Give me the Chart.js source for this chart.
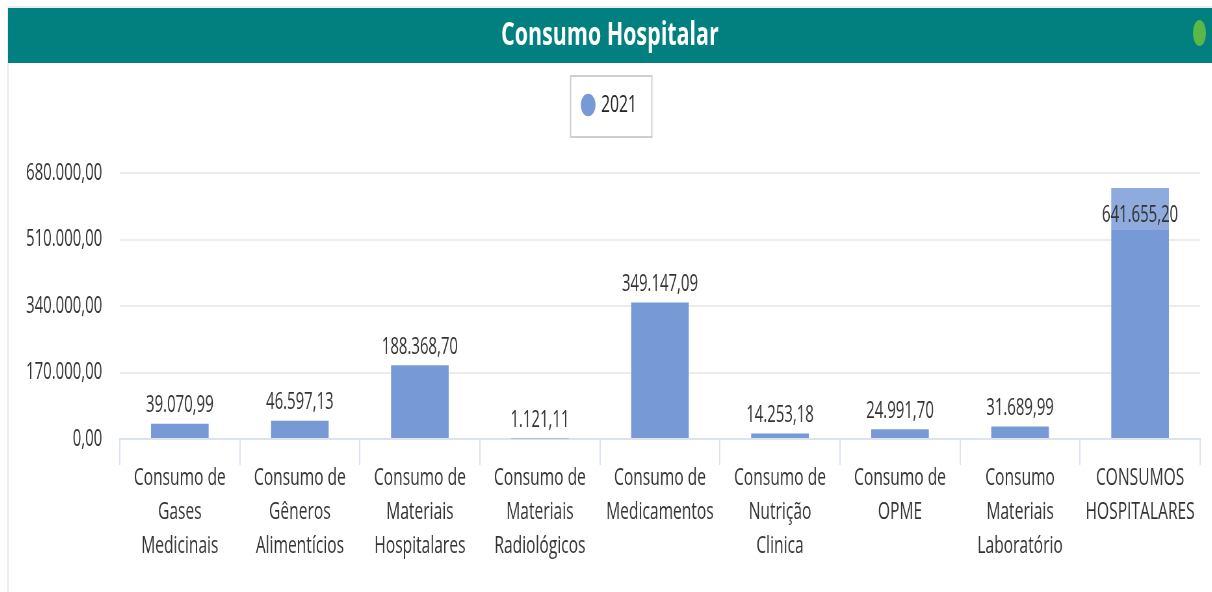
<!DOCTYPE html>
<html>
<head>
<meta charset="utf-8">
<script src="https://cdn.jsdelivr.net/npm/chart.js@4.4.1/dist/chart.umd.min.js"></script>
<style>
  html, body { margin: 0; padding: 0; background: #fff; overflow: hidden; width: 1212px; height: 592px; }
  #frame { position: absolute; left: 7px; top: 6px; width: 1205px; height: 586px; border-left: 2px solid #eeeeee; border-top: 2px solid #ececec; }
  #wrap { position: absolute; left: 8px; top: 8px; width: 1852px; height: 584px; transform: scaleX(0.65); transform-origin: 0 0; }
  canvas { display: block; }
</style>
</head>
<body>
<div id="frame"></div>
<div id="wrap"><canvas id="c" width="1852" height="584"></canvas></div>
<script>
const categories = [
  ['Consumo de', 'Gases', 'Medicinais'],
  ['Consumo de', 'Gêneros', 'Alimentícios'],
  ['Consumo de', 'Materiais', 'Hospitalares'],
  ['Consumo de', 'Materiais', 'Radiológicos'],
  ['Consumo de', 'Medicamentos'],
  ['Consumo de', 'Nutrição', 'Clinica'],
  ['Consumo de', 'OPME'],
  ['Consumo', 'Materiais', 'Laboratório'],
  ['CONSUMOS', 'HOSPITALARES']
];
const values2021 = [39070.99, 46597.13, 188368.70, 1121.11, 349147.09, 14253.18, 24991.70, 31689.99, 641655.20];
const seriesName = '2021';
const chartTitle = 'Consumo Hospitalar';
const yTicks = [0, 170000, 340000, 510000, 680000];

function fmtBR(v) {
  const s = v.toFixed(2);
  const [ip, dp] = s.split('.');
  const grouped = ip.replace(/\B(?=(\d{3})+(?!\d))/g, '.');
  return grouped + ',' + dp;
}

const FONT = '"Open Sans", "Noto Sans", sans-serif';
const BAR = '#7799d6';
const TEXT = '#333333';

const decor = {
  id: 'decor',
  beforeLayout(chart) {
    const lg = chart.legend;
    if (lg && !lg._patched) {
      const orig = lg.fit.bind(lg);
      lg.fit = function () { orig(); this.height = 110; };
      lg._patched = true;
    }
  },
  beforeDraw(chart) {
    const ctx = chart.ctx;
    ctx.save();
    ctx.fillStyle = '#027f7f';
    ctx.fillRect(0, 0, chart.width, 55);
    ctx.fillStyle = '#5bb848';
    ctx.beginPath();
    ctx.ellipse(1833, 25, 10, 13, 0, 0, Math.PI * 2);
    ctx.fill();
    ctx.restore();
  },
  afterDraw(chart) {
    const ctx = chart.ctx;
    const hb = chart.legend && chart.legend.legendHitBoxes && chart.legend.legendHitBoxes[0];
    if (hb) {
      const cx = hb.left + hb.width / 2;
      const cy = hb.top + hb.height / 2;
      const w = 125, h = 61;
      ctx.save();
      ctx.strokeStyle = '#cfcfcf';
      ctx.lineWidth = 2;
      ctx.strokeRect(cx - w / 2 + 2, cy - h / 2 + 1.5, w, h);
      ctx.restore();
    }
  },
  afterDatasetsDraw(chart) {
    const ctx = chart.ctx;
    const meta = chart.getDatasetMeta(0);
    const area = chart.chartArea;
    ctx.save();
    ctx.font = '23px ' + FONT;
    ctx.textAlign = 'center';
    ctx.textBaseline = 'middle';
    meta.data.forEach((bar, i) => {
      const v = chart.data.datasets[0].data[i];
      const txt = fmtBR(v);
      let y = bar.y - 18;
      if (y - 12 < area.top) {
        const props = bar.getProps(['x', 'y', 'width'], true);
        ctx.fillStyle = 'rgba(255,255,255,0.18)';
        ctx.fillRect(props.x - props.width / 2, props.y, props.width, 42);
        y = bar.y + 27;
      }
      ctx.fillStyle = TEXT;
      ctx.fillText(txt, bar.x, y);
    });
    ctx.restore();
  }
};

new Chart(document.getElementById('c'), {
  type: 'bar',
  data: {
    labels: categories,
    datasets: [{
      label: seriesName,
      data: values2021,
      backgroundColor: BAR,
      borderWidth: 0,
      barPercentage: 0.48,
      categoryPercentage: 1.0
    }]
  },
  options: {
    responsive: false,
    animation: false,
    devicePixelRatio: 1,
    layout: { padding: { top: 0, left: 18, right: 18, bottom: 0 } },
    plugins: {
      title: {
        display: true,
        text: chartTitle,
        color: '#ffffff',
        font: { family: FONT, size: 33, weight: 'bold', lineHeight: 1.2 },
        padding: { top: 8, bottom: 7.4 }
      },
      legend: {
        display: true,
        position: 'top',
        labels: {
          usePointStyle: true,
          pointStyle: 'circle',
          boxWidth: 16,
          boxHeight: 16,
          padding: 30,
          color: '#222222',
          font: { family: FONT, size: 24 }
        }
      },
      tooltip: { enabled: false }
    },
    scales: {
      x: {
        afterFit(scale) { scale.height = 153; },
        grid: {
          offset: true,
          drawOnChartArea: false,
          drawTicks: true,
          tickLength: 26,
          color: '#dbe3ef',
          lineWidth: 2
        },
        border: { display: true, color: '#dbe3ef', width: 2 },
        ticks: {
          autoSkip: false,
          maxRotation: 0,
          minRotation: 0,
          padding: -4,
          color: TEXT,
          font: { family: FONT, size: 24, lineHeight: '34px' }
        }
      },
      y: {
        min: 0,
        max: 680000,
        afterFit(scale) { scale.width = 154; },
        afterBuildTicks(scale) { scale.ticks = yTicks.map(v => ({ value: v })); },
        grid: { color: '#ececec', lineWidth: 2, drawTicks: false },
        border: { display: false },
        ticks: {
          padding: 27,
          color: TEXT,
          font: { family: FONT, size: 23 },
          callback: (v) => fmtBR(v)
        }
      }
    }
  },
  plugins: [decor]
});
</script>
</body>
</html>
